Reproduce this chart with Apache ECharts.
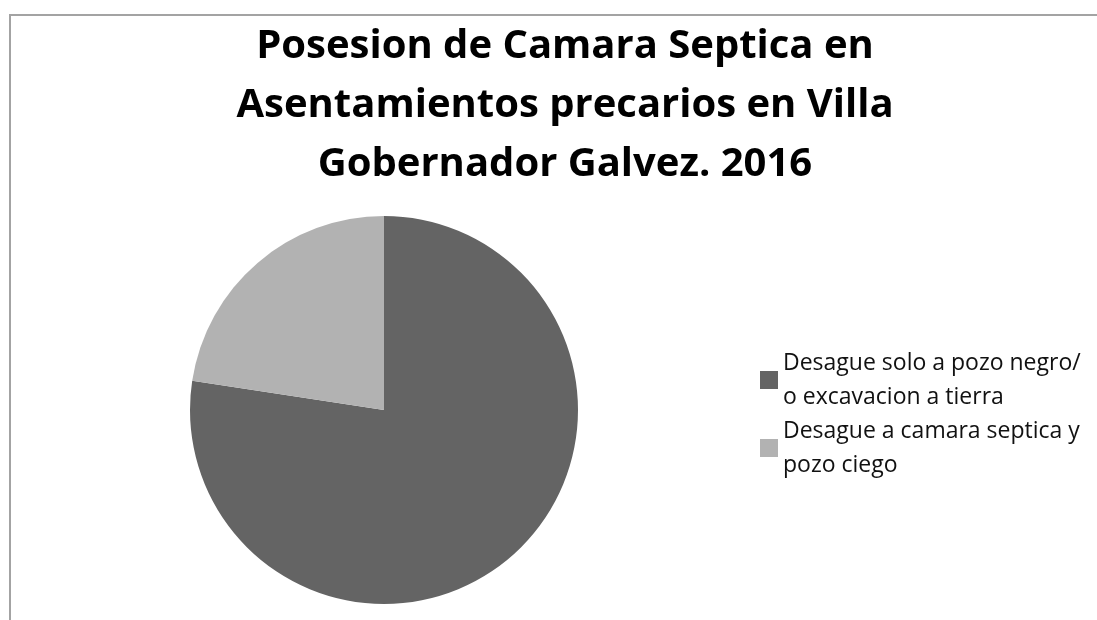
<!DOCTYPE html>
<html>
<head>
<meta charset="utf-8">
<script src="https://cdn.jsdelivr.net/npm/echarts@6/dist/echarts.min.js"></script>
<style>
  html, body { margin: 0; padding: 0; background: #fff; }
  #chart { width: 1097px; height: 620px; }
</style>
</head>
<body>
<div id="chart"></div>
<script>
// categories and shares (percent)
const categories = [
  'Desague solo a pozo negro/\no excavacion a tierra',
  'Desague a camara septica y\npozo ciego'
]
const shares = [77.4, 22.6]
const colors = ['#646464', '#b2b2b2']

const chart = echarts.init(document.getElementById('chart'))
const option = {
  backgroundColor: '#fff',
  animation: false,
  title: {
    text: 'Posesion de Camara Septica en\nAsentamientos precarios en Villa\nGobernador Galvez. 2016',
    left: 560,
    top: 12,
    textAlign: 'center',
    textStyle: {
      fontFamily: 'Open Sans',
      fontWeight: 'bold',
      fontSize: 40,
      lineHeight: 59,
      color: '#000'
    }
  },
  legend: {
    orient: 'vertical',
    left: 760,
    top: 346,
    padding: 0,
    icon: 'rect',
    itemWidth: 18,
    itemHeight: 18,
    itemGap: 0,
    itemTextGap: 5,
    textStyle: {
      fontFamily: 'Open Sans',
      fontSize: 23,
      lineHeight: 34,
      color: '#111'
    },
    data: categories
  },
  graphic: [{
    type: 'rect',
    shape: { x: 10, y: 15, width: 1200, height: 800 },
    style: { fill: 'none', stroke: '#a3a3a3', lineWidth: 2 },
    silent: true
  }],
  series: [{
    type: 'pie',
    center: [384, 410],
    radius: 194,
    startAngle: 90,
    clockwise: true,
    label: { show: false },
    labelLine: { show: false },
    emphasis: { disabled: true },
    data: categories.map((name, i) => ({
      name: name,
      value: shares[i],
      itemStyle: { color: colors[i] }
    }))
  }]
}
chart.setOption(option)
</script>
</body>
</html>
